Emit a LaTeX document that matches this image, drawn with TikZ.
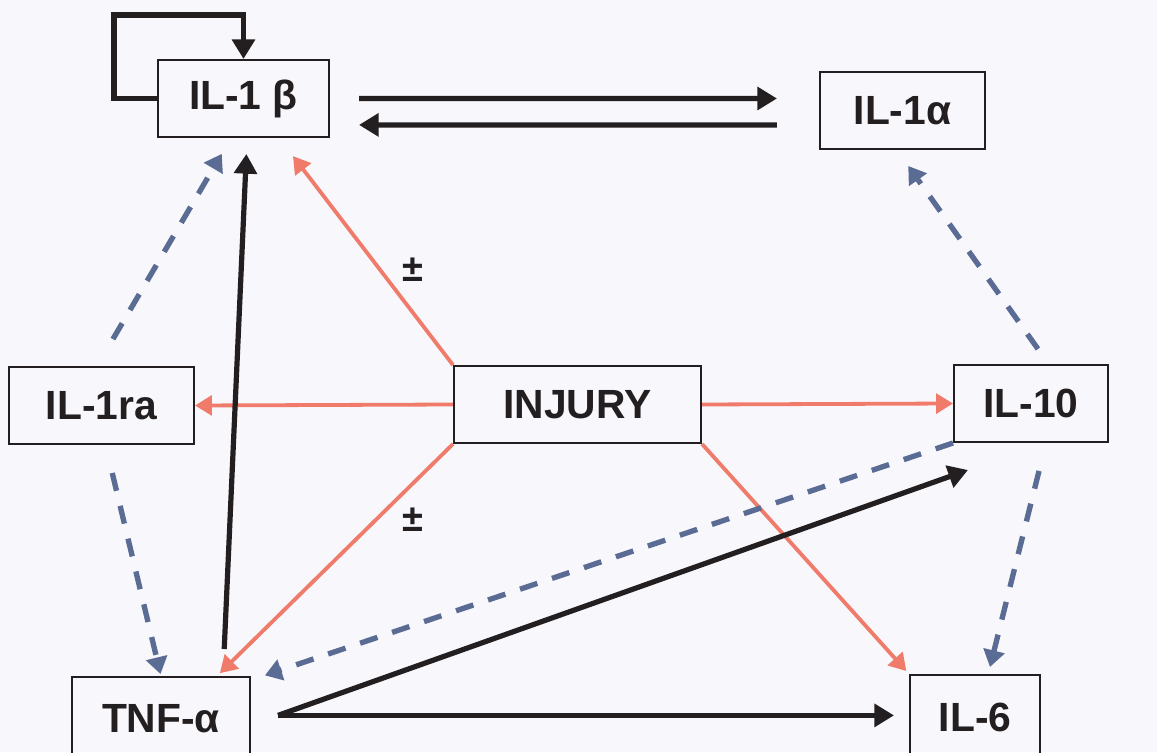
\documentclass[tikz,border=0pt]{standalone}
\usepackage{fontspec}
\setmainfont{Liberation Sans}
\usetikzlibrary{
  arrows.meta,
  calc
}
\definecolor{cytoInk}{HTML}{231F20}
\definecolor{cytoRed}{HTML}{F07B6B}
\definecolor{cytoBlue}{HTML}{5B6C94}
\definecolor{cytoPaper}{HTML}{F7F7FC}
\tikzset{
  cytoBox/.style={
    draw=cytoInk,
    line width=1.4pt,
    minimum height=1.925cm,
    inner sep=0pt,
    text=cytoInk,
    font=\fontsize{29}{33}\selectfont\bfseries
  },
  driveArrow/.style={cytoInk, line width=3.7pt, -{Triangle[length=14pt,width=16pt]}},
  injuryArrow/.style={cytoRed, line width=2.7pt, -{Triangle[length=12pt,width=14pt]}},
  feedbackArrow/.style={
    cytoBlue,
    line width=3.8pt,
    dash pattern=on 13pt off 11pt,
    -{Triangle[length=12pt,width=15pt]}
  },
  signLabel/.style={text=cytoInk, font=\fontsize{27}{30}\selectfont\bfseries}
}

\begin{document}
\begin{tikzpicture}[x=0.025cm,y=0.025cm]
  \fill[cytoPaper] (0,0) rectangle (1157,752);
  \useasboundingbox (0,0) rectangle (1157,752);

  % cytokines
  \node[cytoBox, minimum width=4.275cm] (il1b) at (243.5,653.5) {IL-1 β};
  \node[cytoBox, minimum width=4.125cm] (il1a) at (902.5,641.5) {IL-1α};
  \node[cytoBox, minimum width=4.625cm] (il1ra) at (101.5,346.5) {IL-1ra};
  \node[cytoBox, minimum width=6.175cm] (injury) at (577.5,347.5) {INJURY};
  \node[cytoBox, minimum width=3.85cm] (il10) at (1031,348.5) {IL-10};
  \node[cytoBox, minimum width=4.45cm, minimum height=2.1cm] (tnfa) at (161,33) {TNF-α};
  \node[cytoBox, minimum width=3.25cm, minimum height=2.1cm] (il6) at (975,35) {IL-6};

  \node[signLabel] (signUp) at (413,482) {±};
  \node[signLabel] (signDown) at (413,232) {±};

  % injury drives
  \draw[injuryArrow, shorten >=0.57cm] (injury.north west) -- ([xshift=0.89cm]il1b.south);
  \draw[injuryArrow] (injury.west) -- (il1ra.east);
  \draw[injuryArrow] (injury.east) -- (il10.west);
  \draw[injuryArrow, shorten >=0.1cm] (injury.south west) -- ([xshift=1.4cm]tnfa.north);
  \draw[injuryArrow, shorten >=0.1cm] (injury.south east) -- (il6.north west);

  % feedback (dashed)
  \draw[feedbackArrow, shorten <=0.78cm, shorten >=0.46cm]
    ([xshift=-0.11cm]il1ra.north) -- ([xshift=-0.31cm]il1b.south);
  \draw[feedbackArrow, shorten <=0.72cm, shorten >=0.05cm]
    ([xshift=0.1cm]il1ra.south) -- (tnfa.north);
  \draw[feedbackArrow, shorten >=0.05cm]
    (il10.south west) -- ([xshift=0.3cm]tnfa.north east);
  \draw[feedbackArrow, shorten <=0.46cm, shorten >=0.49cm]
    ([xshift=0.44cm]il10.north) -- ([xshift=-0.14cm]il1a.south);
  \draw[feedbackArrow, shorten <=0.72cm, shorten >=0.18cm]
    ([xshift=0.375cm]il10.south) -- ([xshift=0.33cm]il6.north);

  % IL-1 loop and exchange
  \draw[driveArrow] (il1b.west) -- ++(-43,0) |- ($(il1b.north)+(0,44)$) -- (il1b.north);
  \draw[driveArrow, shorten <=0.725cm, shorten >=1.05cm]
    (il1b.east) -- ([yshift=0.3cm]il1a.west);
  \draw[driveArrow, shorten <=1.05cm, shorten >=0.725cm]
    ([yshift=-0.36cm]il1a.west) -- ([yshift=-0.66cm]il1b.east);

  % TNF-alpha drives
  \draw[driveArrow, shorten <=0.675cm, shorten >=0.4cm]
    ([xshift=1.55cm]tnfa.north) -- ([xshift=0.09cm]il1b.south);
  \coordinate (fork) at ([xshift=0.675cm,yshift=0.09cm]tnfa.east);
  \draw[driveArrow] (fork) -- ([xshift=0.375cm,yshift=-0.675cm]il10.south west);
  \draw[driveArrow, shorten >=0.375cm] (fork) -- (fork -| il6.west);
\end{tikzpicture}
\end{document}
